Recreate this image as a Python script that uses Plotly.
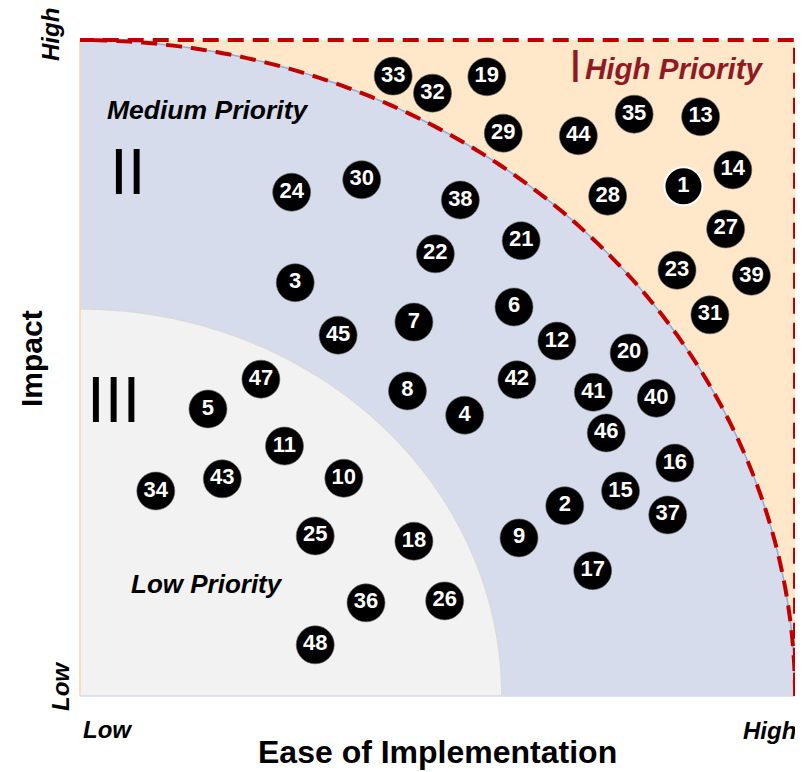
import numpy as np
import plotly.graph_objects as go

# ---- data ----
ids = [33, 32, 19, 29, 44, 35, 13, 14, 1, 28, 27, 23, 39, 31,
       24, 30, 38, 21, 22, 3, 6, 7, 45, 12, 20, 47, 42, 41, 8, 40,
       5, 4, 46, 11, 16, 43, 10, 34, 15, 2, 37, 25, 18, 9, 17, 36, 26, 48]
ease = [43.8, 49.3, 56.9, 59.2, 69.7, 77.5, 86.8, 91.3, 84.4, 73.8, 90.3, 83.5, 93.9, 88.1,
        29.6, 39.4, 53.2, 61.7, 49.7, 30.1, 60.7, 46.7, 36.1, 66.7, 76.8, 25.3, 61.1, 71.8, 45.8, 80.6,
        17.9, 53.8, 73.6, 28.6, 83.2, 19.9, 36.9, 10.6, 75.6, 67.8, 82.2, 32.9, 46.7, 61.4, 71.7, 40.0, 51.0, 32.9]
impact = [94.5, 91.9, 94.4, 85.8, 85.4, 88.7, 88.3, 80.2, 77.7, 76.2, 71.2, 64.9, 64.0, 58.1,
          76.8, 78.7, 75.6, 69.4, 67.4, 63.0, 59.3, 57.0, 55.0, 54.1, 52.3, 48.3, 48.2, 46.3, 46.5, 45.4,
          43.75, 42.8, 40.1, 38.1, 35.5, 33.1, 33.2, 31.25, 31.25, 29.0, 27.6, 24.4, 23.6, 24.1, 19.1, 14.2, 14.5, 7.8]
highlighted = [1]

outer_r = 100.0
inner_r = 59.0

FONT = "Liberation Sans, Arial, sans-serif"
PEACH = "#FFE7C9"
BLUE = "#D7DCEC"
GREY = "#F2F2F2"
RED = "#C00000"
DARKRED = "#8E1B24"

W, H = 789, 764
ML, MR, MT, MB = 70, 0, 29, 73
SX = 7.15
SY = 6.56
XR = [-2 / SX, 100 + 2 / SX]
YR = [-3 / SY, 100 + 3 / SY]
PW = W - ML - MR
PH = H - MT - MB
OFF = 8  # page offset of the figure

th = np.linspace(0, np.pi / 2, 181)


def sector_path(r):
    xs = r * np.cos(th)
    ys = r * np.sin(th)
    pts = " ".join(f"L {x:.3f},{y:.3f}" for x, y in zip(xs, ys))
    return f"M 0,0 {pts} Z"


def arc_path(r):
    xs = r * np.cos(th)
    ys = r * np.sin(th)
    return "M " + " L ".join(f"{x:.3f},{y:.3f}" for x, y in zip(xs, ys))


def high_zone_path(r):
    xs = r * np.cos(th)
    ys = r * np.sin(th)
    pts = " ".join(f"L {x:.3f},{y:.3f}" for x, y in zip(xs, ys))
    return f"M {r:.3f},0 {pts} L 0,100 L 100,100 L 100,0 Z"


shapes = [
    dict(type="rect", xref="x", yref="y", x0=0, y0=0, x1=100, y1=100,
         fillcolor=PEACH, line=dict(width=0), layer="below"),
    dict(type="path", xref="x", yref="y", path=sector_path(outer_r),
         fillcolor=BLUE, line=dict(width=0), layer="below"),
    dict(type="path", xref="x", yref="y", path=sector_path(inner_r),
         fillcolor=GREY, line=dict(width=0), layer="below"),
    dict(type="path", xref="x", yref="y", path=arc_path(inner_r),
         line=dict(color="#DADADA", width=1.5), layer="below"),
    dict(type="path", xref="x", yref="y", path=arc_path(outer_r),
         line=dict(color="#8FAADC", width=1.5), layer="below"),
    dict(type="line", xref="x", yref="y", x0=0, y0=0, x1=0, y1=100,
         line=dict(color="#F5D7A8", width=1.5), layer="below"),
    dict(type="line", xref="x", yref="y", x0=0, y0=0, x1=100, y1=0,
         line=dict(color="#D4DAEC", width=1.5), layer="below"),
    dict(type="path", xref="x", yref="y", path=high_zone_path(outer_r),
         line=dict(color=RED, width=4, dash="16px,9px"), layer="below"),
]

line_colors = ["white" if i in highlighted else "#666666" for i in ids]
line_widths = [2 if i in highlighted else 0.6 for i in ids]

fig = go.Figure()
fig.add_trace(go.Scatter(
    x=ease, y=impact, mode="markers+text",
    text=[f"<b>{i}</b>" for i in ids],
    textposition="middle center",
    textfont=dict(family=FONT, size=22, color="white"),
    marker=dict(size=38, color="black", line=dict(color=line_colors, width=line_widths)),
    hoverinfo="skip", showlegend=False,
))


def ann(text, px, py, size, color="black", angle=0):
    # text placed by its page-pixel centre
    x = (px - OFF - ML) / PW
    y = 1 - (py - OFF - MT) / PH
    return dict(text=text, x=x, y=y, xref="paper", yref="paper", showarrow=False,
                font=dict(family=FONT, size=size, color=color),
                textangle=angle, xanchor="center", yanchor="middle")


annotations = [
    ann("<b><i>Medium Priority</i></b>", 207.5, 110.2, 26.5),
    ann("<b><i>Low Priority</i></b>", 207, 583.8, 26),
    ann("<b><i>High Priority</i></b>", 674, 68.8, 29.5, DARKRED),
    ann("I", 575.5, 66.2, 46, DARKRED),
    ann("II", 128, 171.9, 64),
    ann("III", 113, 400, 64),
    ann("<b>Impact</b>", 31, 359, 30, angle=-90),
    ann("<b>Ease of Implementation</b>", 437, 752.4, 32),
    ann("<b><i>High</i></b>", 51, 35, 24, angle=-90),
    ann("<b><i>Low</i></b>", 60, 687, 24, angle=-90),
    ann("<b><i>Low</i></b>", 107, 729, 24),
    ann("<b><i>High</i></b>", 769, 730, 24),
]

fig.update_layout(
    width=W, height=H,
    margin=dict(l=ML, r=MR, t=MT, b=MB),
    paper_bgcolor="white", plot_bgcolor="white",
    xaxis=dict(range=XR, visible=False, fixedrange=True),
    yaxis=dict(range=YR, visible=False, fixedrange=True),
    shapes=shapes, annotations=annotations,
    font=dict(family=FONT),
)

fig.write_html("out.html")
